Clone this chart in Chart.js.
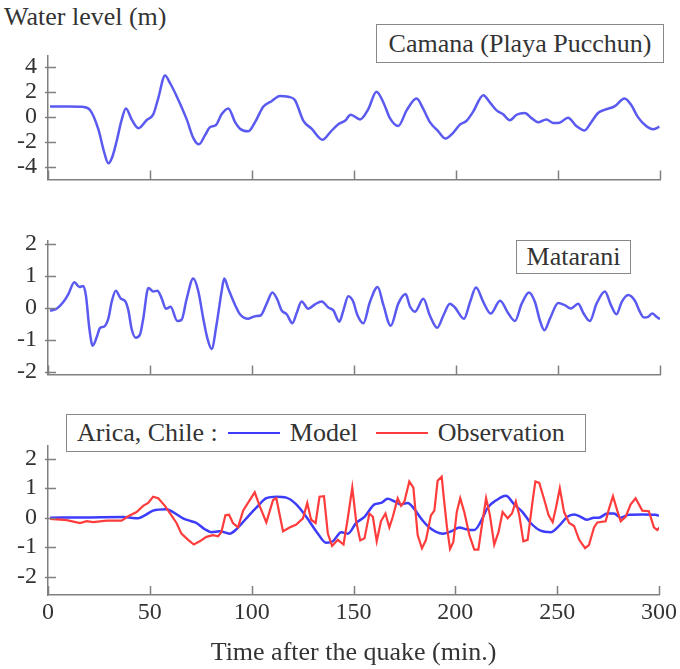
<!DOCTYPE html>
<html>
<head>
<meta charset="utf-8">
<script src="https://cdn.jsdelivr.net/npm/chart.js@4"></script>
<style>
  body { margin: 0; background: #fff; }
  #wrap { position: relative; width: 680px; height: 669px; font-family: "Liberation Serif", "Times New Roman", Tinos, "DejaVu Serif", serif; color: #333; }
  .panel { position: absolute; left: 0; width: 680px; }
  .box { position: absolute; border: 1.5px solid #888; background: #fff; font-size: 26px; line-height: 1; display: flex; align-items: center; justify-content: center; box-sizing: border-box; white-space: nowrap; }
  .sample { display: inline-block; width: 52px; height: 0; border-top: 2.5px solid; margin: 0 10px; vertical-align: middle; }
  #ylabel { position: absolute; left: 4px; top: 2px; font-size: 26px; }
</style>
</head>
<body>
<div id="wrap">
  <div id="ylabel">Water level (m)</div>
  <div class="panel" style="top:30px;height:175px"><canvas id="c1" width="680" height="175"></canvas></div>
  <div class="panel" style="top:215px;height:185px"><canvas id="c2" width="680" height="185"></canvas></div>
  <div class="panel" style="top:420px;height:249px"><canvas id="c3" width="680" height="249"></canvas></div>
  <div class="box" style="left:376px;top:24px;width:288px;height:39px">Camana (Playa Pucchun)</div>
  <div class="box" style="left:516px;top:240px;width:115px;height:34px">Matarani</div>
  <div class="box" style="left:66px;top:414px;width:520px;height:38px;justify-content:flex-start;padding-left:10px">
    Arica, Chile :<span class="sample" style="border-color:#3c3cfa"></span>Model<span class="sample" style="border-color:#ff3c3c;margin-left:18px"></span>Observation
  </div>
</div>
<script>
// Dữ liệu (phút, mét)
const timeTicks = [0, 50, 100, 150, 200, 250, 300];

const camanaTicks = [-4, -2, 0, 2, 4];
const camanaTime = [1, 10, 17, 20.6, 24.7, 27.5, 29.6, 31.5, 33.7, 36, 38.2, 41, 44.3, 48.4, 51.6, 54, 57.4, 59.8, 63, 68, 71.2, 74, 77, 79.4, 82.2, 85.1, 88.4, 91.7, 94.1, 98.2, 101.5, 105.6, 109.6, 113.7, 117.8, 121, 125.2, 129.2, 134.6, 138.2, 142.3, 145.6, 148.4, 153, 157, 161, 164.4, 167.6, 171.7, 175.8, 180.7, 184, 187.2, 191.3, 194.9, 198.7, 201.9, 205.2, 208.4, 213.4, 216.6, 219.9, 223.1, 226.4, 229.7, 233.7, 237, 240.2, 244.3, 247.6, 250.8, 254.9, 259, 263, 266.3, 269.6, 272.8, 277.7, 282.6, 285.9, 289.1, 293.2, 296.5, 299.7];
const camanaLevel = [0.83, 0.83, 0.8, 0.55, -1.0, -2.8, -3.7, -3.2, -1.9, -0.3, 0.67, -0.2, -0.9, -0.25, 0.2, 1.46, 3.3, 2.7, 1.67, -0.2, -1.67, -2.19, -1.46, -0.83, -0.67, 0.2, 0.67, -0.42, -0.94, -1.15, -0.42, 0.83, 1.25, 1.67, 1.6, 1.35, -0.31, -0.94, -1.83, -1.25, -0.58, -0.31, 0.17, -0.2, 0.62, 2.0, 1.15, -0.1, -0.73, 0.52, 1.46, 0.62, -0.42, -1.15, -1.73, -1.25, -0.62, -0.31, 0.42, 1.73, 1.15, 0.52, 0.21, -0.27, 0.17, 0.31, -0.1, -0.42, -0.2, -0.48, -0.46, -0.06, -0.73, -1.08, -0.42, 0.31, 0.56, 0.83, 1.46, 0.94, 0, -0.73, -0.98, -0.79];

const mataraniTicks = [-2, -1, 0, 1, 2];
const mataraniTime = [1, 4.2, 7.5, 10, 12.9, 15.4, 17.3, 18.6, 20.3, 21.9, 23.9, 25.5, 27.6, 29.6, 31.2, 33.2, 35.8, 37.7, 39.4, 41, 43, 45.1, 46.7, 49.2, 51.6, 53.6, 55.7, 57.8, 60.1, 63.4, 65.5, 67.9, 71.2, 73.7, 76.1, 78.3, 80.2, 82.7, 85.1, 86.4, 88.4, 91.7, 94.1, 98.2, 101.5, 104.2, 107.2, 110, 112.4, 114.5, 117, 119.8, 121.9, 124.3, 127.6, 130.9, 134.2, 137.4, 139.9, 142.8, 144.8, 147.2, 149.7, 151.5, 154.6, 157.8, 161.6, 164.4, 168, 171.7, 175.3, 177.4, 179.9, 184, 187.2, 190.8, 193.8, 197, 199.5, 203.9, 206.9, 209.8, 213.4, 217, 221.6, 225.7, 228.9, 232.2, 235.8, 238.7, 241.2, 243.3, 246.1, 250.1, 253.1, 256.3, 259.9, 262.4, 265.6, 268.9, 273, 275.9, 278.7, 281.2, 284.4, 287.7, 290.1, 292.1, 294.2, 296.2, 298.3, 300];
const mataraniLevel = [-0.09, -0.03, 0.18, 0.43, 0.8, 0.65, 0.68, 0.38, -0.66, -1.18, -0.91, -0.63, -0.58, -0.33, 0.18, 0.53, 0.28, 0.22, -0.08, -0.66, -0.93, -0.83, -0.33, 0.62, 0.51, 0.53, 0.3, -0.03, 0.03, -0.41, -0.37, 0.26, 0.91, 0.51, -0.33, -0.99, -1.28, -0.49, 0.51, 0.91, 0.59, 0.09, -0.2, -0.34, -0.26, -0.24, 0.13, 0.48, 0.26, -0.08, -0.2, -0.48, -0.16, 0.2, -0.03, 0.11, 0.2, 0.01, -0.08, -0.43, -0.08, 0.36, 0.18, -0.2, -0.48, 0.18, 0.65, 0.09, -0.56, 0.13, 0.43, 0.05, -0.12, 0.28, -0.24, -0.62, -0.24, 0.13, 0.01, -0.34, 0.18, 0.63, 0.18, -0.18, 0.22, -0.18, -0.41, 0.13, 0.48, 0.18, -0.41, -0.7, -0.33, 0.15, 0.09, -0.02, 0.13, -0.16, -0.41, 0.13, 0.51, 0.09, -0.2, 0.18, 0.4, 0.22, -0.12, -0.3, -0.28, -0.18, -0.28, -0.35];

const aricaTicks = [-2, -1, 0, 1, 2];
const modelTime = [1, 20.6, 37, 44.3, 47.5, 51.6, 58.2, 61.4, 66.3, 70.4, 72.9, 77, 80.2, 84.3, 89.2, 92.5, 97.4, 102.3, 107.2, 112.1, 117, 121.9, 126.8, 132, 136.6, 139.9, 144, 147.2, 151.3, 155.4, 160.3, 163.5, 166.8, 170.1, 173.4, 176.6, 179.9, 183.1, 187.2, 193.8, 198.7, 201.9, 205.2, 209.3, 212.6, 215.9, 219.9, 224.8, 228.9, 233, 237, 241.9, 246.8, 250.9, 255, 258.3, 261.5, 264.8, 268.1, 270.5, 274.6, 277.9, 281.2, 285.3, 291.8, 298.3, 300];
const modelLevel = [0, 0.01, 0.02, -0.02, 0.08, 0.24, 0.29, 0.19, -0.02, -0.12, -0.18, -0.39, -0.49, -0.46, -0.54, -0.39, -0.02, 0.34, 0.66, 0.71, 0.68, 0.45, 0.03, -0.49, -0.85, -0.8, -0.49, -0.54, -0.18, 0.03, 0.45, 0.5, 0.64, 0.55, 0.45, 0.5, 0.29, -0.02, -0.33, -0.54, -0.44, -0.33, -0.39, -0.42, -0.12, 0.34, 0.58, 0.74, 0.45, 0.19, -0.18, -0.44, -0.49, -0.28, 0.03, 0.11, 0.03, -0.07, 0, 0, 0.14, 0.14, 0, 0.1, 0.11, 0.1, 0.06];

const obsTime = [1, 9.2, 15.7, 19, 22.2, 28.8, 36.1, 39.4, 43.5, 46.7, 49.2, 51.6, 54.1, 57.4, 60.6, 63.1, 65.5, 68.8, 71.6, 74.5, 77.8, 81, 83.5, 85.1, 87.1, 88.9, 90.8, 93.3, 95.8, 98.2, 101.5, 103.9, 107.2, 110.5, 112.1, 115.4, 118.6, 121.9, 125.2, 127.3, 129.2, 131.4, 133.3, 135.5, 137.4, 139.5, 142.3, 145.1, 147.2, 149.4, 151.3, 153.3, 155.4, 157.8, 159.5, 161.4, 163.5, 165.7, 167.6, 169.3, 171.7, 173.4, 175, 177.4, 179.4, 181.5, 183.6, 185.6, 188, 189.7, 191.3, 193.3, 194.6, 195.9, 197.4, 199, 200.7, 202.4, 204.4, 206.9, 209.3, 211.3, 212.9, 215.1, 217, 219.1, 221.2, 223.2, 225.7, 227.8, 229.7, 231.4, 233.4, 235.5, 238, 239.3, 241.2, 243.7, 245.8, 247.8, 249.4, 251.3, 253.4, 255.9, 258.3, 260.8, 263.7, 265.6, 268.1, 269.7, 273.8, 275.4, 277.4, 279.5, 281.2, 283.6, 286.1, 288.5, 291.8, 295, 297.5, 299.1, 300.3];
const obsLevel = [-0.04, -0.08, -0.18, -0.12, -0.15, -0.1, -0.1, 0.05, 0.19, 0.4, 0.5, 0.71, 0.66, 0.4, 0.08, -0.18, -0.54, -0.75, -0.91, -0.8, -0.65, -0.59, -0.63, -0.49, 0.08, 0.1, -0.18, -0.33, 0.24, 0.5, 0.86, 0.4, -0.16, 0.6, 0.66, -0.46, -0.33, -0.23, -0.02, 0.5, -0.07, -0.18, 0.71, 0.73, -0.54, -0.96, -0.75, -0.91, -0.02, 1.02, -0.12, -0.77, -0.7, 0.14, 0.03, -0.8, -0.12, 0.14, -0.33, 0.03, 0.66, 0.4, 0.55, 1.23, 1.02, -0.59, -1.04, -0.75, 0.08, 0.24, 1.25, 1.39, 0.5, -0.33, -1.06, -0.83, 0.19, 0.66, 0.19, -0.59, -1.08, -1.08, -0.33, 0.66, 0.08, -0.91, -0.49, 0.19, -0.02, 0.14, 0.55, 0.08, -0.8, -0.75, 0.6, 1.23, 1.18, 0.6, 0.08, -0.15, 0.34, 1.0, 0.19, -0.18, -0.28, -0.75, -1.03, -0.93, -0.33, -0.16, -0.12, 0.29, 0.73, 0.24, -0.12, 0.03, 0.45, 0.66, 0.24, 0.22, -0.33, -0.42, -0.33];

const axisColor = "#808080";
const textColor = "#333";
const serifFamily = '"Liberation Serif", "Times New Roman", Tinos, "DejaVu Serif", serif';
const tickFont = { family: serifFamily, size: 24 };

function toPoints(times, values) {
  return times.map((t, i) => ({ x: t, y: values[i] }));
}

// Vẽ vạch chia hướng vào trong khung
const innerTicks = {
  id: "innerTicks",
  afterDraw(chart) {
    const { ctx, chartArea, scales } = chart;
    ctx.save();
    ctx.strokeStyle = axisColor;
    ctx.lineWidth = 1.5;
    ctx.beginPath();
    scales.x.ticks.forEach((tk) => {
      const px = Math.round(scales.x.getPixelForValue(tk.value)) + 0.5;
      ctx.moveTo(px, chartArea.bottom);
      ctx.lineTo(px, chartArea.bottom - 9);
    });
    scales.y.ticks.forEach((tk) => {
      const py = Math.round(scales.y.getPixelForValue(tk.value)) + 0.5;
      ctx.moveTo(chartArea.left - 3, py);
      ctx.lineTo(chartArea.left + 8, py);
    });
    ctx.stroke();
    ctx.restore();
  },
};

function makeChart(id, datasets, yMin, yMax, yTicks, padTop, bottomAxis) {
  const ctx = document.getElementById(id).getContext("2d");
  return new Chart(ctx, {
    type: "line",
    data: { datasets: datasets },
    plugins: [innerTicks],
    options: {
      responsive: false,
      animation: false,
      layout: { padding: { top: padTop, right: 20, left: 0, bottom: 0 } },
      plugins: { legend: { display: false }, tooltip: { enabled: false } },
      elements: { point: { radius: 0 } },
      scales: {
        x: {
          type: "linear",
          min: 0,
          max: 300,
          afterBuildTicks: (scale) => { scale.ticks = timeTicks.map((v) => ({ value: v })); },
          afterFit: (scale) => { scale.height = bottomAxis ? 74 : 5; },
          grid: { display: false, drawTicks: false },
          border: { display: true, color: axisColor, width: 1.5 },
          ticks: { display: bottomAxis, color: textColor, font: tickFont, padding: 3, maxRotation: 0, autoSkip: false },
          title: {
            display: bottomAxis,
            text: "Time after the quake (min.)",
            color: textColor,
            font: { family: serifFamily, size: 26 },
            padding: 0,
          },
        },
        y: {
          min: yMin,
          max: yMax,
          afterBuildTicks: (scale) => { scale.ticks = yTicks.map((v) => ({ value: v })); },
          afterFit: (scale) => { scale.width = 48; },
          grid: { display: false, drawTicks: false },
          border: { display: true, color: axisColor, width: 1.5 },
          ticks: { color: textColor, font: tickFont, padding: 11 },
        },
      },
    },
  });
}

const blueLine = { borderWidth: 2.5, cubicInterpolationMode: "monotone", fill: false };

makeChart("c1", [
  Object.assign({ label: "Camana (Playa Pucchun)", data: toPoints(camanaTime, camanaLevel), borderColor: "#5a5af0" }, blueLine),
], -5, 4.9, camanaTicks, 10, false);

makeChart("c2", [
  Object.assign({ label: "Matarani", data: toPoints(mataraniTime, mataraniLevel), borderColor: "#5a5af0" }, blueLine),
], -2.08, 2.1, mataraniTicks, 13, false);

makeChart("c3", [
  { label: "Observation", data: toPoints(obsTime, obsLevel), borderColor: "#ff3c3c", borderWidth: 2.2, tension: 0, fill: false },
  Object.assign({ label: "Model", data: toPoints(modelTime, modelLevel), borderColor: "#3c3cfa" }, blueLine),
], -2.62, 2.45, aricaTicks, 12, true);
</script>
</body>
</html>
